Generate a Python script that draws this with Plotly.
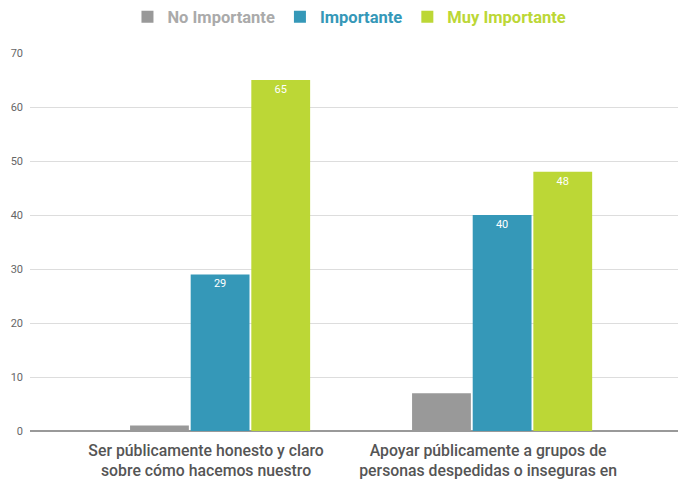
import plotly.graph_objects as go

categories = [
    "Ser públicamente honesto y claro<br>sobre cómo hacemos nuestro",
    "Apoyar públicamente a grupos de<br>personas despedidas o inseguras en",
]
no_importante = [1, 7]
importante = [29, 40]
muy_importante = [65, 48]

series = [
    ("No Importante", no_importante, "#999999", "#aaaaaa", False),
    ("Importante", importante, "#3598b8", "#3598b8", True),
    ("Muy Importante", muy_importante, "#bcd736", "#bcd736", True),
]

fig = go.Figure()
for name, vals, color, textcolor, show_text in series:
    fig.add_trace(go.Bar(
        x=categories, y=vals,
        name="<b><span style='color:%s'>%s</span></b>" % (textcolor, name),
        marker_color=color,
        marker_line_width=0,
        text=vals if show_text else None,
        textposition="inside" if show_text else "none",
        insidetextanchor="end",
        textfont=dict(color="white", size=11, family="Roboto"),
        cliponaxis=False,
    ))

# page body adds an 8px offset, so the figure is 678x471
fig.update_layout(
    width=678, height=471,
    margin=dict(l=22, r=0, t=45, b=48, autoexpand=False),
    plot_bgcolor="white",
    paper_bgcolor="white",
    font=dict(family="Roboto", color="#666666"),
    barmode="group",
    bargap=0.355,
    bargroupgap=0.03,
    showlegend=True,
    legend=dict(
        orientation="h", x=0.487, xanchor="center",
        y=1 + 36 / 378, yanchor="middle",
        font=dict(size=16.5, family="Roboto"),
        itemwidth=30, traceorder="normal",
    ),
)

fig.update_xaxes(
    range=[-0.674, 1.652],
    showgrid=False,
    tickfont=dict(size=15.8, color="#555555", family="Roboto", weight=500),
    ticks="",
    showline=False,
    automargin=False,
    ticklabelstandoff=8,
    ticklabelshift=-14,
)
fig.update_yaxes(
    range=[0, 70],
    dtick=10,
    showgrid=True, gridcolor="#dddddd", gridwidth=1,
    zeroline=True, zerolinecolor="#999999", zerolinewidth=2,
    tickfont=dict(size=11, color="#666666", family="Roboto"),
    ticks="", ticklabelstandoff=6,
    automargin=False,
)

fig.write_html("out.html")
